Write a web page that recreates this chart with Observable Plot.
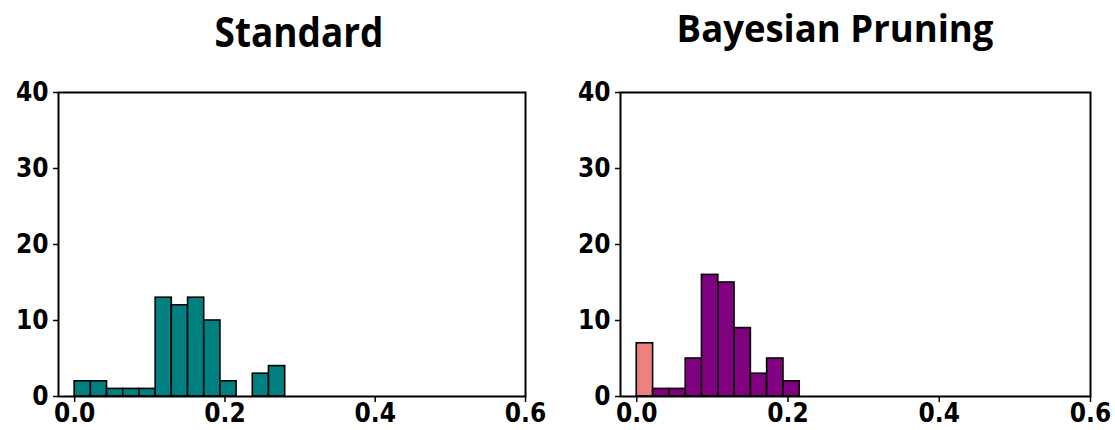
<!DOCTYPE html>
<html><head><meta charset="utf-8">
<script src="https://cdn.jsdelivr.net/npm/d3@7"></script>
<script src="https://cdn.jsdelivr.net/npm/@observablehq/plot@0.6"></script>
<style>
html,body{margin:0;padding:0;background:#fff;}
#wrap{position:relative;width:1115px;height:430px;overflow:hidden;}
.panel{position:absolute;top:0;}
.title{position:absolute;font-family:"Open Sans",sans-serif;font-weight:700;white-space:nowrap;line-height:1;}
</style>
</head><body>
<div id="wrap"></div>
<script>
// Bin edges and counts
const standardBinStart = [0.0000,0.0216,0.0431,0.0647,0.0862,0.1078,0.1293,0.1509,0.1724,0.1940,0.2155,0.2371,0.2586];
const standardBinEnd   = [0.0216,0.0431,0.0647,0.0862,0.1078,0.1293,0.1509,0.1724,0.1940,0.2155,0.2371,0.2586,0.2802];
const standardCounts   = [2,2,1,1,1,13,12,13,10,2,0,3,4];

const bayesBinStart = [0.0000,0.0216,0.0431,0.0647,0.0862,0.1078,0.1293,0.1509,0.1724,0.1940];
const bayesBinEnd   = [0.0216,0.0431,0.0647,0.0862,0.1078,0.1293,0.1509,0.1724,0.1940,0.2155];
const bayesCounts   = [7,1,1,5,16,15,9,3,5,2];
const bayesGroup    = ["pruned","kept","kept","kept","kept","kept","kept","kept","kept","kept"];

const titles = ["Standard","Bayesian Pruning"];
const xTicks = [0.0,0.2,0.4,0.6];
const yTicks = [0,10,20,30,40];

const wrap = document.getElementById("wrap");
const fontFamily = '"DejaVu Sans Condensed","DejaVu Sans",sans-serif';

function makePanel(binStart, binEnd, counts, groups, fill, left, width, mLeft, mRight){
  const data = counts.map((c,i)=>({x1:binStart[i],x2:binEnd[i],y:c,g:groups?groups[i]:"kept"})).filter(d=>d.y>0);
  const svg = Plot.plot({
    width, height:430,
    marginTop:92, marginBottom:34, marginLeft:mLeft, marginRight:mRight,
    style:{fontFamily, fontSize:"26px", fontWeight:"bold", color:"#000", background:"transparent", overflow:"visible"},
    x:{domain:[-0.0215,0.6], label:null},
    y:{domain:[0,40], label:null},
    color:{domain:["kept","pruned"], range:[fill,"#F08080"]},
    marks:[
      Plot.rectY(data,{x1:"x1",x2:"x2",y:"y",fill:d=>d.g,stroke:"#000",strokeWidth:1.6}),
      Plot.frame({stroke:"#000",strokeWidth:2}),
      Plot.axisX({ticks:xTicks, tickFormat:d3.format(".1f"), tickSize:6, tickPadding:1, stroke:"#000", strokeWidth:1.5}),
      Plot.axisY({ticks:yTicks, tickSize:5, tickPadding:5, stroke:"#000", strokeWidth:1.5})
    ]
  });
  svg.classList.add("panel");
  svg.style.left = left+"px";
  wrap.appendChild(svg);
}

makePanel(standardBinStart, standardBinEnd, standardCounts, null, "#008080", 0, 557, 58, 32);
makePanel(bayesBinStart, bayesBinEnd, bayesCounts, bayesGroup, "#800080", 557, 558, 63, 25);

const t1 = document.createElement("div");
t1.className="title"; t1.textContent = titles[0];
t1.style.left="299px"; t1.style.top="10px"; t1.style.fontSize="42px";
t1.style.transform="translateX(-50%) scaleX(0.88)";
wrap.appendChild(t1);
const t2 = document.createElement("div");
t2.className="title"; t2.textContent = titles[1];
t2.style.left="835px"; t2.style.top="7.5px"; t2.style.fontSize="38px";
t2.style.transform="translateX(-50%) scaleX(0.96)";
wrap.appendChild(t2);
</script>
</body></html>
